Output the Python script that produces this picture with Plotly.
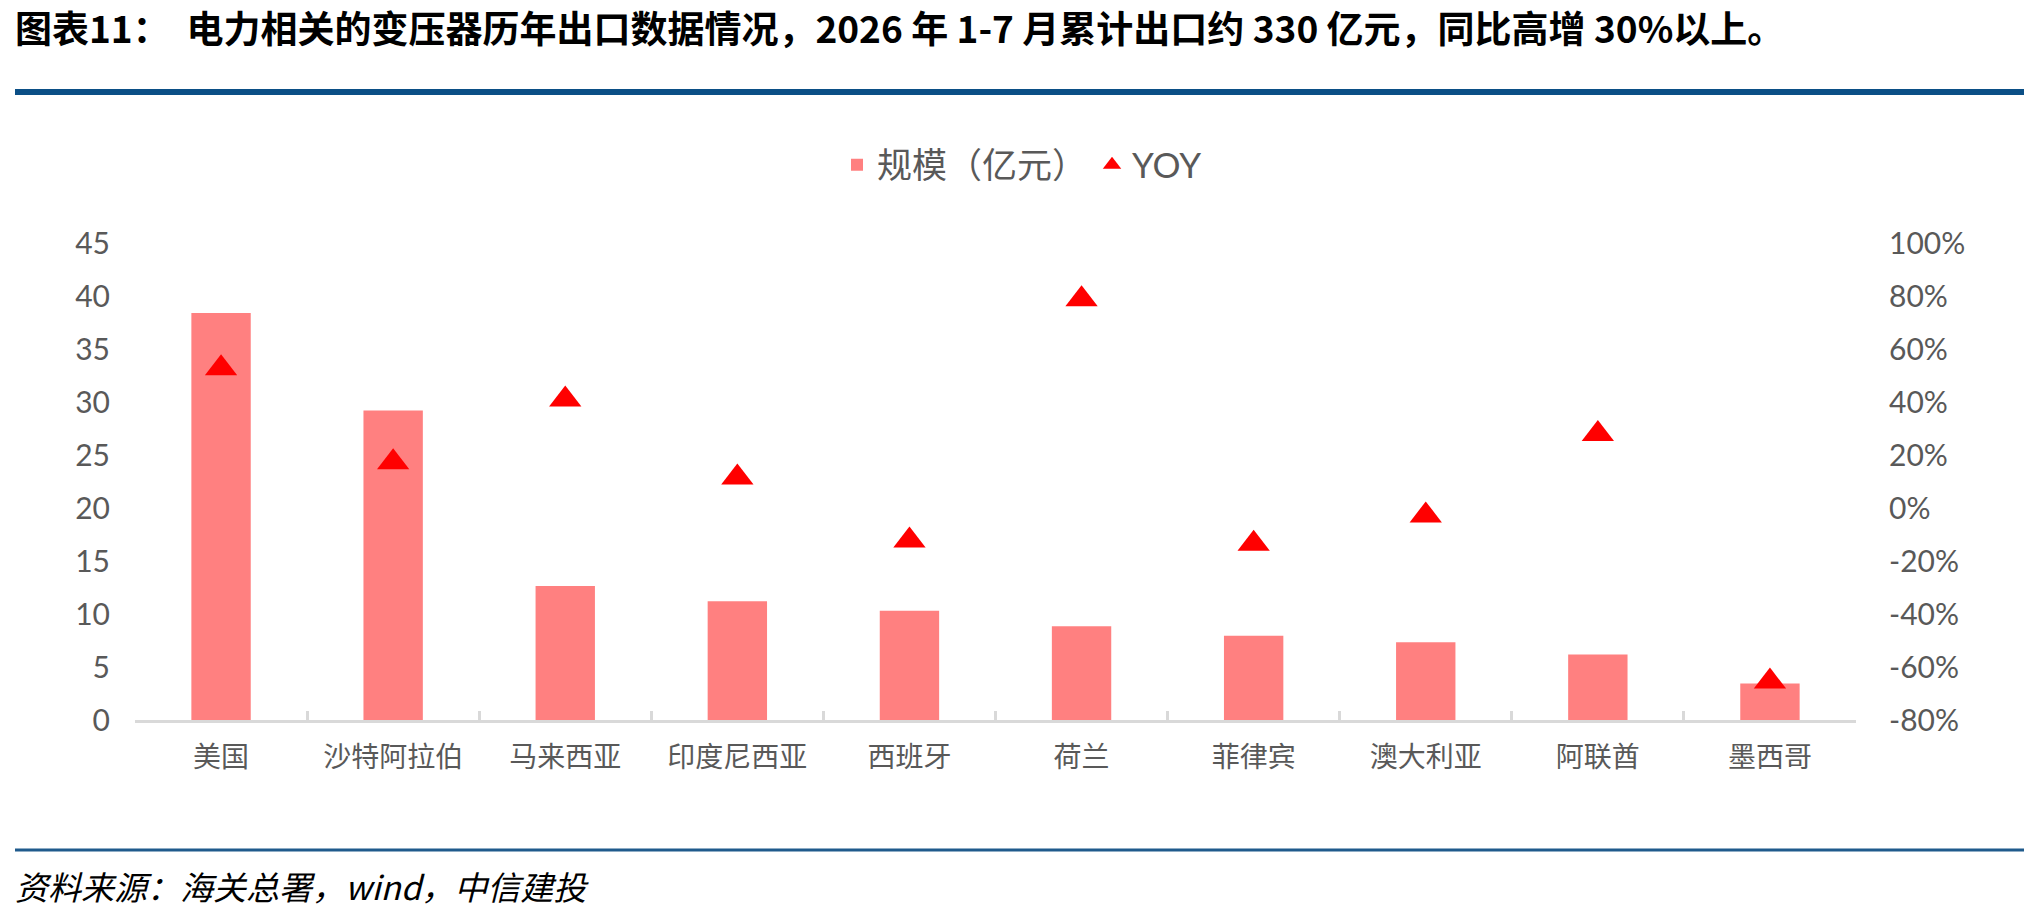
import plotly.graph_objects as go

# 规模（亿元）与同比，按国家
countries = ["美国", "沙特阿拉伯", "马来西亚", "印度尼西亚", "西班牙",
             "荷兰", "菲律宾", "澳大利亚", "阿联酋", "墨西哥"]
scale_bn = [38.4, 29.2, 12.65, 11.2, 10.3, 8.85, 7.95, 7.33, 6.17, 3.45]
yoy = [0.527, 0.173, 0.409, 0.115, -0.123, 0.788, -0.135, -0.028, 0.279, -0.655]

left_ticks = [0, 5, 10, 15, 20, 25, 30, 35, 40, 45]
right_ticks = [-0.8, -0.6, -0.4, -0.2, 0, 0.2, 0.4, 0.6, 0.8, 1.0]
right_labels = [f"{round(v * 100)}%" for v in right_ticks]

title = "图表11：  电力相关的变压器历年出口数据情况，2026 年 1-7 月累计出口约 330 亿元，同比高增 30%以上。"
source = "资料来源：海关总署，wind，中信建投"

W, H = 2028, 910
L, R, T, B = 135, W - 1856, 243, H - 720
FONT = "Lato, 'Noto Sans CJK SC', sans-serif"
CJK = "'Noto Sans CJK SC', sans-serif"
GREY = "#595959"


def px(x):
    return (x - L) / (W - L - R)


def py(y):
    return (H - B - y) / (H - T - B)


fig = go.Figure()
fig.add_trace(go.Bar(
    x=countries, y=scale_bn, name="规模（亿元）",
    marker=dict(color="#FF8080", line=dict(width=0)),
    width=0.345,
))
fig.add_trace(go.Scatter(
    x=countries, y=yoy, name="YOY", yaxis="y2", mode="markers",
    marker=dict(symbol="triangle-up", size=28, color="#FF0000"),
))

fig.update_layout(
    width=W, height=H,
    margin=dict(l=L, r=R, t=T, b=B),
    paper_bgcolor="white", plot_bgcolor="white",
    font=dict(family=FONT, color=GREY),
    showlegend=True,
    legend=dict(
        orientation="h", x=px(1022), xanchor="center", y=py(165), yanchor="middle",
        font=dict(size=35, color=GREY), bgcolor="rgba(0,0,0,0)", traceorder="normal",
    ),
    xaxis=dict(
        type="category", range=[-0.5, 9.5], automargin=False,
        tickson="boundaries", ticks="inside", ticklen=9,
        tickwidth=2.5, tickcolor="#D9D9D9", showline=True, linecolor="#D9D9D9",
        linewidth=2.5, showgrid=False, tickfont=dict(size=28, color=GREY, family=CJK),
        ticklabelstandoff=11,
    ),
    yaxis=dict(
        range=[0, 45], tickvals=left_ticks, showgrid=False, zeroline=False,
        showline=False, ticks="", tickfont=dict(size=30, color=GREY),
        ticklabelstandoff=24, automargin=False,
    ),
    yaxis2=dict(
        overlaying="y", side="right", range=[-0.8, 1.0], tickvals=right_ticks,
        ticktext=right_labels, showgrid=False, zeroline=False, showline=False,
        ticks="", tickfont=dict(size=30, color=GREY), ticklabelstandoff=32,
        automargin=False,
    ),
)

fig.add_annotation(
    text=f"<b>{title}</b>", xref="paper", yref="paper", x=px(13), y=py(27),
    xanchor="left", yanchor="middle", showarrow=False,
    font=dict(size=37, color="black", family=CJK),
)
fig.add_annotation(
    text=f"<i>{source}</i>", xref="paper", yref="paper", x=px(13), y=py(886),
    xanchor="left", yanchor="middle", showarrow=False,
    font=dict(size=33, color="black", family=CJK),
)
fig.add_shape(type="line", xref="paper", yref="paper", x0=px(15), x1=px(2024),
              y0=py(92), y1=py(92), line=dict(color="#0B4F86", width=6))
fig.add_shape(type="line", xref="paper", yref="paper", x0=px(15), x1=px(2024),
              y0=py(850), y1=py(850), line=dict(color="#1F5A8C", width=3))

# drop the page's default 8px body margin so the 2028x910 figure fills the window
fig.write_html("out.html", config={"displayModeBar": False},
               post_script="document.body.style.margin='0';")
